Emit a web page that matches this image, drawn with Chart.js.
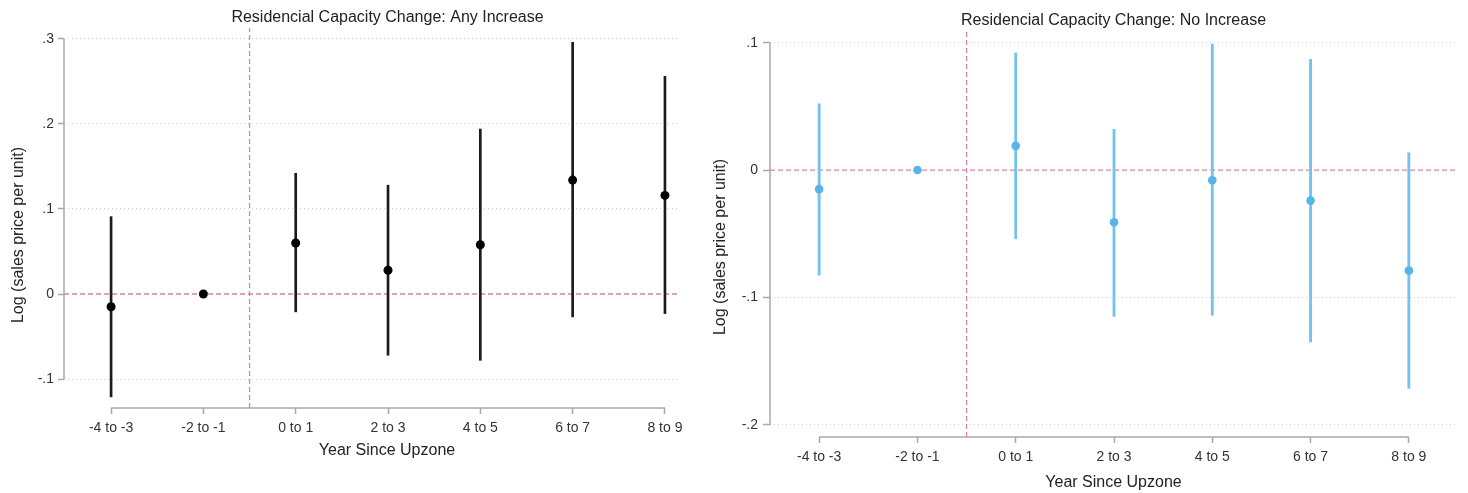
<!DOCTYPE html>
<html>
<head>
<meta charset="utf-8">
<title>Upzone event study</title>
<script src="https://cdn.jsdelivr.net/npm/chart.js@4/dist/chart.umd.min.js"></script>
<style>
    body { margin: 0; background: #fff; }
    #wrap { position: relative; width: 1468px; height: 493px; }
    #any-chart { position: absolute; left: 0; top: 0; }
    #no-chart { position: absolute; left: 700px; top: 0; }
</style>
</head>
<body>
<div id="wrap">
    <canvas id="any-chart" width="700" height="493"></canvas>
    <canvas id="no-chart" width="768" height="493"></canvas>
</div>
<script>
const periods = ['-4 to -3', '-2 to -1', '0 to 1', '2 to 3', '4 to 5', '6 to 7', '8 to 9'];

// Any increase in residential capacity
const anyEstimate = [-0.015, 0, 0.060, 0.028, 0.058, 0.134, 0.116];
const anyLower = [-0.121, null, -0.021, -0.072, -0.078, -0.027, -0.023];
const anyUpper = [0.091, null, 0.142, 0.128, 0.194, 0.296, 0.256];
const anyTicks = [-0.1, 0, 0.1, 0.2, 0.3];

// No increase in residential capacity
const noEstimate = [-0.015, 0, 0.019, -0.041, -0.008, -0.024, -0.079];
const noLower = [-0.0825, null, -0.054, -0.115, -0.114, -0.135, -0.1715];
const noUpper = [0.052, null, 0.092, 0.032, 0.099, 0.087, 0.0136];
const noTicks = [-0.2, -0.1, 0, 0.1];

// upzoning happens between "-2 to -1" and "0 to 1"
const upzoneAt = 1.5;

const FONT = "'Liberation Sans', Arial, sans-serif";
const AXIS_GREY = '#a9a9a9';
const GRID_GREY = '#cfcfcf';
const REF_PINK = '#d884ae';

// stata style: axis lines only run between the first and last tick,
// plus the title texts placed freely around the plot
const stataFrame = {
    id: 'stataFrame',
    beforeDatasetsDraw(chart, args, opts) {
        const { ctx, chartArea, scales: { x, y } } = chart;
        const xs = x.ticks.map(t => x.getPixelForValue(t.value));
        const ys = y.ticks.map(t => y.getPixelForValue(t.value));
        ctx.save();
        ctx.strokeStyle = AXIS_GREY;
        ctx.lineWidth = 1.5;
        ctx.beginPath();
        ctx.moveTo(chartArea.left, Math.min(...ys));
        ctx.lineTo(chartArea.left, Math.max(...ys));
        ctx.moveTo(Math.min(...xs), chartArea.bottom);
        ctx.lineTo(Math.max(...xs), chartArea.bottom);
        ctx.stroke();
        ctx.restore();
    },
    afterDraw(chart, args, opts) {
        const ctx = chart.ctx;
        ctx.save();
        ctx.fillStyle = '#222';
        ctx.font = '16px ' + FONT;
        ctx.textAlign = 'center';
        ctx.textBaseline = 'alphabetic';
        ctx.fillText(opts.title.text, opts.title.x, opts.title.y);
        ctx.fillText(opts.xTitle.text, opts.xTitle.x, opts.xTitle.y);
        ctx.translate(opts.yTitle.x, opts.yTitle.y);
        ctx.rotate(-Math.PI / 2);
        ctx.fillText(opts.yTitle.text, 0, 0);
        ctx.restore();
    }
};

function formatTick(value) {
    if (Math.abs(value) < 1e-9) return '0';
    const s = value.toFixed(1);
    return s.replace('0.', '.');
}

function createEventStudy(canvasId, cfg) {
    const ctx = document.getElementById(canvasId).getContext('2d');

    const bars = [];
    periods.forEach((p, i) => {
        if (cfg.lower[i] !== null) {
            bars.push({ x: i, y: [cfg.lower[i], cfg.upper[i]] });
        }
    });
    const points = periods.map((p, i) => ({ x: i, y: cfg.estimate[i] }));

    return new Chart(ctx, {
        type: 'bar',
        data: {
            datasets: [{
                type: 'line',
                data: [{ x: cfg.xMin, y: 0 }, { x: cfg.xMax, y: 0 }],
                borderColor: REF_PINK,
                borderWidth: 1.3,
                borderDash: [5, 3],
                pointRadius: 0,
                order: 4
            }, {
                type: 'line',
                data: [{ x: upzoneAt, y: cfg.yMin }, { x: upzoneAt, y: cfg.yMax }],
                borderColor: REF_PINK,
                borderWidth: 1.3,
                borderDash: [5, 3],
                pointRadius: 0,
                order: 3
            }, {
                type: 'bar',
                data: bars,
                backgroundColor: cfg.barColor,
                barThickness: cfg.barWidth,
                order: 2
            }, {
                type: 'scatter',
                data: points,
                backgroundColor: cfg.pointColor,
                borderWidth: 0,
                pointRadius: cfg.pointRadius,
                order: 1
            }]
        },
        options: {
            responsive: false,
            animation: false,
            layout: {
                padding: { left: 0, top: cfg.padTop, right: cfg.padRight, bottom: 0 }
            },
            plugins: {
                legend: { display: false },
                tooltip: { enabled: false },
                stataFrame: cfg.texts
            },
            scales: {
                x: {
                    type: 'linear',
                    offset: false,
                    min: cfg.xMin,
                    max: cfg.xMax,
                    afterBuildTicks: scale => {
                        scale.ticks = periods.map((p, i) => ({ value: i }));
                    },
                    afterFit: scale => { scale.height = cfg.xHeight; },
                    ticks: {
                        autoSkip: false,
                        maxRotation: 0,
                        padding: 5.5,
                        color: '#333',
                        font: { family: FONT, size: 14 },
                        callback: value => periods[value]
                    },
                    grid: {
                        offset: false,
                        drawOnChartArea: false,
                        tickLength: 6,
                        tickColor: AXIS_GREY,
                        tickWidth: 1.5
                    },
                    border: { display: false }
                },
                y: {
                    type: 'linear',
                    min: cfg.yMin,
                    max: cfg.yMax,
                    afterBuildTicks: scale => {
                        scale.ticks = cfg.ticks.map(v => ({ value: v }));
                    },
                    afterFit: scale => { scale.width = cfg.yWidth; },
                    ticks: {
                        padding: cfg.yPad,
                        color: '#333',
                        font: { family: FONT, size: 14 },
                        callback: value => formatTick(value)
                    },
                    grid: {
                        color: c => (c.tick && Math.abs(c.tick.value) < 1e-9 ? 'rgba(0,0,0,0)' : GRID_GREY),
                        lineWidth: 1,
                        tickLength: cfg.yTick,
                        tickColor: AXIS_GREY,
                        tickWidth: 1.5
                    },
                    border: { display: false, dash: [1, 3] }
                }
            }
        },
        plugins: [stataFrame]
    });
}

createEventStudy('any-chart', {
    estimate: anyEstimate,
    lower: anyLower,
    upper: anyUpper,
    ticks: anyTicks,
    xMin: -0.51, xMax: 6.163,
    yMin: -0.1341, yMax: 0.3129,
    padTop: 28, padRight: 20,
    xHeight: 85, yWidth: 64,
    yTick: 6, yPad: 4,
    barColor: '#1b1b1b', barWidth: 2,
    pointColor: '#000', pointRadius: 4.5,
    texts: {
        title: { text: 'Residencial Capacity Change: Any Increase', x: 387.5, y: 22 },
        xTitle: { text: 'Year Since Upzone', x: 387, y: 455 },
        yTitle: { text: 'Log (sales price per unit)', x: 23, y: 235 }
    }
});

createEventStudy('no-chart', {
    estimate: noEstimate,
    lower: noLower,
    upper: noUpper,
    ticks: noTicks,
    xMin: -0.5, xMax: 6.5,
    yMin: -0.2097, yMax: 0.110,
    padTop: 30, padRight: 10,
    xHeight: 56, yWidth: 70,
    yTick: 7, yPad: 5,
    barColor: '#74c2ee', barWidth: 2.2,
    pointColor: '#56b4e9', pointRadius: 4.3,
    texts: {
        title: { text: 'Residencial Capacity Change: No Increase', x: 413.5, y: 25 },
        xTitle: { text: 'Year Since Upzone', x: 413.5, y: 486.5 },
        yTitle: { text: 'Log (sales price per unit)', x: 25, y: 247 }
    }
});
</script>
</body>
</html>
